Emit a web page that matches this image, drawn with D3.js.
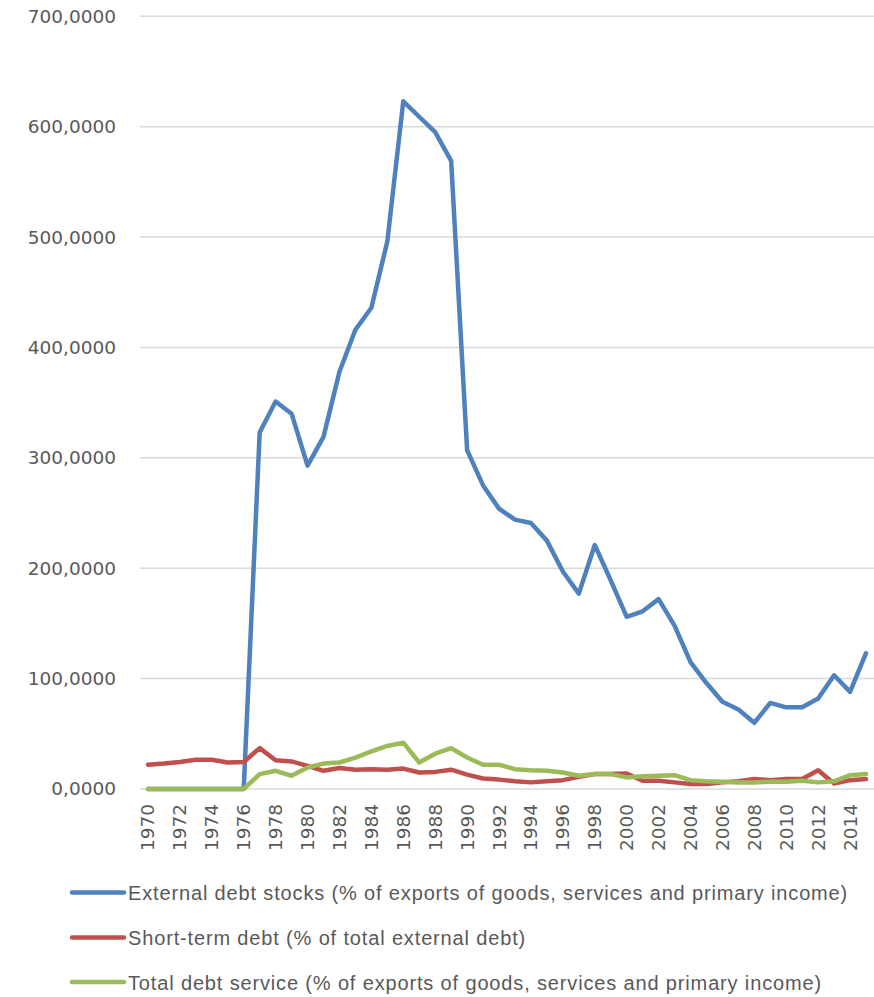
<!DOCTYPE html>
<html><head><meta charset="utf-8">
<script src="https://cdn.jsdelivr.net/npm/d3@7"></script>
<style>body{margin:0;background:#fff}svg{display:block}</style>
</head><body>
<svg id="c" width="874" height="997"></svg>
<script>
const years = d3.range(1970, 2016);
const externalDebtStocks = [0,0,0,0,0,0,0,323,351,340,293,319,378,416,436,496,623,609,595,569,307,275,254,244,241,225,197,177,221,189,156,161,172,148,115,96,79,72,60,78,74,74,82,103,88,123];
const shortTermDebt = [22,23,24.5,26.5,26.5,24,24.5,37,26,25,21,16.5,19,17.5,18,17.5,18.5,15,15.5,17.5,13,9.5,8.5,7,6,7,8,11,13.5,13.5,14,7.5,7.5,6,4.5,4.5,6,7,9,8,9,9,17,5,8,9];
const totalDebtService = [0,0,0,0,0,0,0,13.5,16.5,12,19.5,23,24,28.5,34,39,42,24,32,37,28.5,22,22,18,17,16.5,15,12,13.5,13.5,10.5,11.5,12,12.5,8,7,6.5,6,6,6.5,6.5,7.5,6,7,12.5,13.5];
const yTicks = [0,100,200,300,400,500,600,700];
const seriesNames = ["External debt stocks (% of exports of goods, services and primary income)","Short-term debt (% of total external debt)","Total debt service (% of exports of goods, services and primary income)"];
const seriesColors = ["#4F81BD","#C0504D","#9BBB59"];

(function(){
const svg = d3.select("#c");
const mLeft = 140, mRight = 874, mTop = 16.3, mBottom = 789;
const x = d3.scaleBand().domain(years).range([mLeft, mRight]);
const y = d3.scaleLinear().domain([0,700]).range([mBottom, mTop]);
const loc = d3.formatLocale({decimal:",", thousands:".", grouping:[3], currency:["",""]});
const fmt = loc.format(".4f");
const gray = "#595959";

svg.append("g").selectAll("line").data(yTicks).join("line")
  .attr("x1", mLeft).attr("x2", mRight)
  .attr("y1", d=>y(d)).attr("y2", d=>y(d))
  .attr("stroke", "#D9D9D9").attr("stroke-width", 1.5);

svg.append("g").selectAll("text").data(yTicks).join("text")
  .attr("x", 116).attr("y", d=>y(d)).attr("dy","0.35em")
  .attr("text-anchor","end").attr("fill", gray)
  .style("font-family","DejaVu Sans").style("font-size","18.5px")
  .text(d=>fmt(d));

const xl = years.filter(yr => (yr-1970)%2===0);
svg.append("g").selectAll("text").data(xl).join("text")
  .attr("transform", d=>`translate(${x(d)+x.bandwidth()/2},${804}) rotate(-90)`)
  .attr("text-anchor","end").attr("dy","0.35em").attr("fill", gray)
  .style("font-family","DejaVu Sans").style("font-size","18.5px")
  .text(d=>d);

const cx = d => x(d)+x.bandwidth()/2;
const line = d3.line().x((d,i)=>cx(years[i])).y(d=>y(d));
const allSeries = [externalDebtStocks, shortTermDebt, totalDebtService];
allSeries.forEach((s,i)=>{
  svg.append("path").datum(s).attr("d", line)
    .attr("fill","none").attr("stroke", seriesColors[i])
    .attr("stroke-width", 4.5).attr("stroke-linejoin","round").attr("stroke-linecap","round");
});

const ly = [892.5, 937.5, 982];
const lg = svg.append("g");
seriesNames.forEach((n,i)=>{
  lg.append("line").attr("x1",72).attr("x2",124).attr("y1",ly[i]).attr("y2",ly[i])
    .attr("stroke", seriesColors[i]).attr("stroke-width",4.5).attr("stroke-linecap","round");
  lg.append("text").attr("x",128).attr("y",ly[i]).attr("dy","0.38em").attr("fill",gray)
    .style("font-family","Liberation Sans").style("font-size","20px")
    .style("letter-spacing","0.85px")
    .text(n);
});
})();
</script>
</body></html>
